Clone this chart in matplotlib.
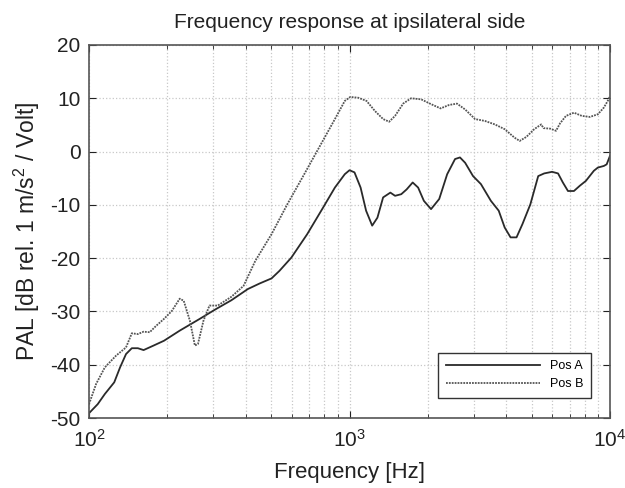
import matplotlib
matplotlib.use("Agg")
import matplotlib.pyplot as plt
import numpy as np

plt.rcParams['font.family'] = ['Liberation Sans', 'DejaVu Sans']
plt.rcParams['axes.unicode_minus'] = False
plt.rcParams['mathtext.fontset'] = 'custom'
plt.rcParams['mathtext.rm'] = 'Liberation Sans'
plt.rcParams['mathtext.it'] = 'Liberation Sans'

freq_a = [100, 108, 115, 125, 131.6, 138.7, 146, 154, 162, 177, 194, 223, 266, 306, 352, 407, 452, 502,
          538, 598, 688, 792, 879, 959, 1000, 1045, 1103, 1158, 1222, 1280, 1346, 1435, 1496, 1580, 1657,
          1748, 1834, 1930, 2056, 2210, 2371, 2542, 2655, 2779, 2980, 3195, 3490, 3740, 3942, 4152, 4377,
          4613, 4946, 5302, 5590, 5993, 6318, 6592, 6897, 7270, 7664, 8080, 8672, 8983, 9469, 9709, 10000]
pal_a = [-49.1, -47.4, -45.5, -43.3, -40.5, -38.0, -36.9, -36.9, -37.25, -36.4, -35.5, -33.6, -31.4, -29.6,
         -27.9, -25.8, -24.75, -23.8, -22.4, -19.9, -15.5, -10.5, -6.75, -4.25, -3.5, -3.9, -6.75, -11.1,
         -13.9, -12.4, -8.6, -7.7, -8.3, -8.0, -7.1, -5.8, -6.75, -9.25, -10.8, -8.9, -4.25, -1.4, -1.1,
         -2.1, -4.6, -6.1, -9.25, -11.1, -14.25, -16.1, -16.1, -13.6, -9.9, -4.6, -4.1, -3.8, -4.1, -5.8,
         -7.4, -7.4, -6.4, -5.5, -3.6, -3.0, -2.7, -2.4, -0.8]

freq_b = [100, 106.5, 115, 127, 138.7, 146, 154, 162, 171, 181, 194, 208, 223, 231, 244, 255, 262, 275, 290,
          312, 352, 392, 435, 502, 577, 664, 764, 879, 959, 1007, 1081, 1163, 1253, 1346, 1420, 1496, 1607,
          1723, 1885, 2056, 2237, 2413, 2586, 2779, 3035, 3309, 3613, 3942, 4303, 4501, 4774, 5118, 5445,
          5554, 5902, 6207, 6430, 6778, 7270, 7792, 8370, 8983, 9469, 9800, 10000]
pal_b = [-47.4, -43.6, -40.5, -38.3, -36.75, -34.1, -34.25, -33.8, -33.9, -32.7, -31.4, -29.9, -27.6, -28.0,
         -31.75, -36.4, -36.1, -31.75, -28.9, -28.9, -27.25, -25.2, -20.5, -15.5, -9.9, -4.6, 0.75, 6.1, 9.5,
         10.25, 10.1, 9.5, 7.6, 6.1, 5.6, 6.7, 9.0, 10.0, 9.8, 8.9, 8.1, 8.75, 9.0, 7.9, 6.1, 5.75, 5.1, 4.2,
         2.6, 2.0, 2.75, 4.2, 5.1, 4.4, 4.3, 3.9, 5.3, 6.7, 7.3, 6.7, 6.5, 7.0, 8.25, 9.5, 10.4]

y_ticks = [-50, -40, -30, -20, -10, 0, 10, 20]

fig = plt.figure(figsize=(6.25, 4.88), dpi=100)
ax = fig.add_axes([0.1424, 0.1434, 0.8336, 0.7644])

ax.plot(freq_a, pal_a, color='#2a2a2a', lw=1.3, label='Pos A')
ax.plot(freq_b, pal_b, color='#555555', lw=1.3, linestyle=(0, (1, 0.6)), label='Pos B')

ax.set_xscale('log')
ax.set_xlim(100, 10000)
ax.set_ylim(-50, 20)
ax.set_yticks(y_ticks)
ax.grid(True, which='major', color='#c8c8c8', linestyle=':', lw=0.9)
ax.grid(True, which='minor', axis='x', color='#c8c8c8', linestyle=':', lw=0.9)
ax.tick_params(which='both', direction='in', top=True, right=True, labelsize=15, colors='#222222')
ax.tick_params(which='major', length=5)
ax.tick_params(axis='x', which='major', pad=8)
ax.tick_params(axis='y', which='major', pad=6)
ax.tick_params(which='minor', length=3)
for s in ax.spines.values():
    s.set_color('#555555')
    s.set_linewidth(1.2)

ax.set_xlabel('Frequency [Hz]', fontsize=16, color='#222222', labelpad=8)
ax.set_ylabel('PAL [dB rel. 1 m/s$^2$ / Volt]', fontsize=16.5, color='#222222', labelpad=6)
ax.set_title('Frequency response at ipsilateral side', fontsize=15, color='#222222', pad=12)

leg = ax.legend(loc='lower right', bbox_to_anchor=(0.975, 0.0375), fontsize=9, handlelength=7.5,
                fancybox=False, framealpha=1, edgecolor='#333333', borderpad=0.6, labelspacing=0.5)
leg.get_frame().set_linewidth(1.0)

fig.savefig('out.png', dpi=100)
